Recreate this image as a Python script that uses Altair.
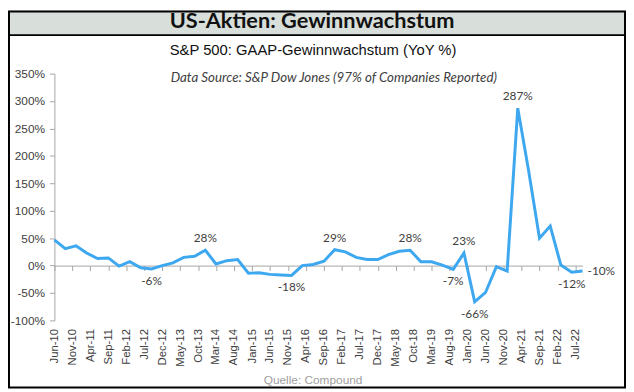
import altair as alt
import pandas as pd

# Quarterly observations (Jun-10 ... Sep-22)
dates = [
    "2010-06", "2010-09", "2010-12", "2011-03", "2011-06", "2011-09", "2011-12", "2012-03",
    "2012-06", "2012-09", "2012-12", "2013-03", "2013-06", "2013-09", "2013-12", "2014-03",
    "2014-06", "2014-09", "2014-12", "2015-03", "2015-06", "2015-09", "2015-12", "2016-03",
    "2016-06", "2016-09", "2016-12", "2017-03", "2017-06", "2017-09", "2017-12", "2018-03",
    "2018-06", "2018-09", "2018-12", "2019-03", "2019-06", "2019-09", "2019-12", "2020-03",
    "2020-06", "2020-09", "2020-12", "2021-03", "2021-06", "2021-09", "2021-12", "2022-03",
    "2022-06", "2022-09",
]
growth = [
    47, 31, 36, 23, 13, 14, -1, 7, -4, -6,
    0, 5, 15, 17, 28, 3, 9, 11, -14, -13,
    -16, -17, -18, 0, 2, 8, 29, 25, 15, 11,
    11, 20, 26, 28, 7, 7, 1, -7, 23, -66,
    -49, -2, -10, 287, 173, 50, 72, 1, -12, -10,
]

# Annotated points: index into the series and placement of the label
label_idx = [9, 14, 22, 26, 33, 37, 38, 39, 43, 48, 49]
label_pos = ["below", "above", "below", "above", "above", "below", "above", "below", "above", "below", "right"]

# x-axis tick labels every 5 months
tick_dates = [
    "2010-06", "2010-11", "2011-04", "2011-09", "2012-02", "2012-07", "2012-12", "2013-05",
    "2013-10", "2014-03", "2014-08", "2015-01", "2015-06", "2015-11", "2016-04", "2016-09",
    "2017-02", "2017-07", "2017-12", "2018-05", "2018-10", "2019-03", "2019-08", "2020-01",
    "2020-06", "2020-11", "2021-04", "2021-09", "2022-02", "2022-07",
]
y_ticks = [-100, -50, 0, 50, 100, 150, 200, 250, 300, 350]

TITLE = "US-Aktien: Gewinnwachstum"
SUBTITLE = "S&P 500: GAAP-Gewinnwachstum (YoY %)"
SOURCE = "Data Source: S&P Dow Jones (97% of Companies Reported)"
FOOTER = "Quelle: Compound"

LINE_COLOR = "#3DA8F0"
AXIS_COLOR = "#A6A6A6"
TEXT_COLOR = "#404040"

df = pd.DataFrame({"date": pd.to_datetime(dates), "value": growth})
lab = df.iloc[label_idx].copy()
lab["pos"] = label_pos
lab["txt"] = [f"{v}%" for v in lab["value"]]


def dt(s):
    y, m = s.split("-")
    return alt.DateTime(year=int(y), month=int(m), date=1)


x_scale = alt.Scale(domain=[dt(dates[0]), dt(dates[-1])])
y_enc = alt.Y(
    "value:Q",
    scale=alt.Scale(domain=[-100, 350], nice=False, zero=False),
    axis=alt.Axis(
        values=y_ticks, labelExpr="datum.value + '%'", grid=False,
        domainColor=AXIS_COLOR, tickColor=AXIS_COLOR, tickSize=5,
        labelFont="Liberation Sans", labelFontSize=12, labelColor=TEXT_COLOR,
        labelPadding=5, title=None,
    ),
)

W, H = 535, 250
zero_offset = -H * 100 / 450

one = pd.DataFrame({"a": [0]})

header = alt.Chart(one).mark_rect(color="#D8DFDA").encode(
    x=alt.value(-47), x2=alt.value(W + 44), y=alt.value(-64), y2=alt.value(-39)
)
header_line = alt.Chart(one).mark_rule(color="black", strokeWidth=2).encode(
    x=alt.value(-47), x2=alt.value(W + 44), y=alt.value(-39)
)
border = alt.Chart(one).mark_rect(fill=None, stroke="black", strokeWidth=2).encode(
    x=alt.value(-46), x2=alt.value(W + 43), y=alt.value(-63), y2=alt.value(H + 68)
)
title = alt.Chart(one).mark_text(
    text=TITLE, font="Lato", fontWeight="bold", fontSize=22, color="#111111",
    baseline="middle", align="center",
).encode(x=alt.value(261), y=alt.value(-53))
subtitle = alt.Chart(one).mark_text(
    text=SUBTITLE, font="Liberation Sans", fontSize=15, color="#111111",
    baseline="middle", align="center",
).encode(x=alt.value(262), y=alt.value(-24))
source = alt.Chart(one).mark_text(
    text=SOURCE, font="Lato", fontStyle="italic", fontSize=13.5, color=TEXT_COLOR,
    baseline="middle", align="center",
).encode(x=alt.value(283), y=alt.value(4))
footer = alt.Chart(one).mark_text(
    text=FOOTER, font="Liberation Sans", fontSize=12, color="#A0A0A0",
    baseline="middle", align="center",
).encode(x=alt.value(262), y=alt.value(310))

# invisible layer carrying the zero-line axis (domain + ticks)
zero_axis = alt.Chart(df).mark_point(opacity=0).encode(
    x=alt.X("date:T", scale=x_scale, axis=alt.Axis(
        orient="bottom", offset=zero_offset, values=[dt(t) for t in tick_dates],
        labels=False, grid=False, domainColor=AXIS_COLOR, tickColor=AXIS_COLOR,
        tickSize=5, title=None,
    )),
    y=y_enc,
)

line = alt.Chart(df).mark_line(color=LINE_COLOR, strokeWidth=3).encode(
    x=alt.X("date:T", scale=x_scale, axis=alt.Axis(
        orient="bottom", values=[dt(t) for t in tick_dates], format="%b-%y",
        labelAngle=-90, labelFont="Liberation Sans", labelFontSize=11.5,
        labelColor=TEXT_COLOR, labelPadding=8, domain=False, ticks=False,
        grid=False, title=None,
    )),
    y=y_enc,
)

def label_layer(pos, **kw):
    return alt.Chart(lab).transform_filter(alt.datum.pos == pos).mark_text(
        font="Lato", fontSize=12, color=TEXT_COLOR, **kw
    ).encode(
        x=alt.X("date:T", scale=x_scale, axis=None),
        y=y_enc,
        text="txt:N",
    )

above = label_layer("above", baseline="alphabetic", dy=-8)
below = label_layer("below", baseline="top", dy=7)
right = label_layer("right", baseline="middle", align="left", dx=5)

chart = alt.layer(
    header, header_line, border, title, subtitle, source, footer,
    zero_axis, line, above, below, right,
).resolve_axis(x="independent").properties(
    width=W, height=H,
    padding={"left": 47, "top": 64, "right": 44, "bottom": 69},
    autosize=alt.AutoSizeParams(type="none"),
).configure_view(stroke=None)

chart.save("out.html", embed_options={"renderer": "svg", "actions": False})
